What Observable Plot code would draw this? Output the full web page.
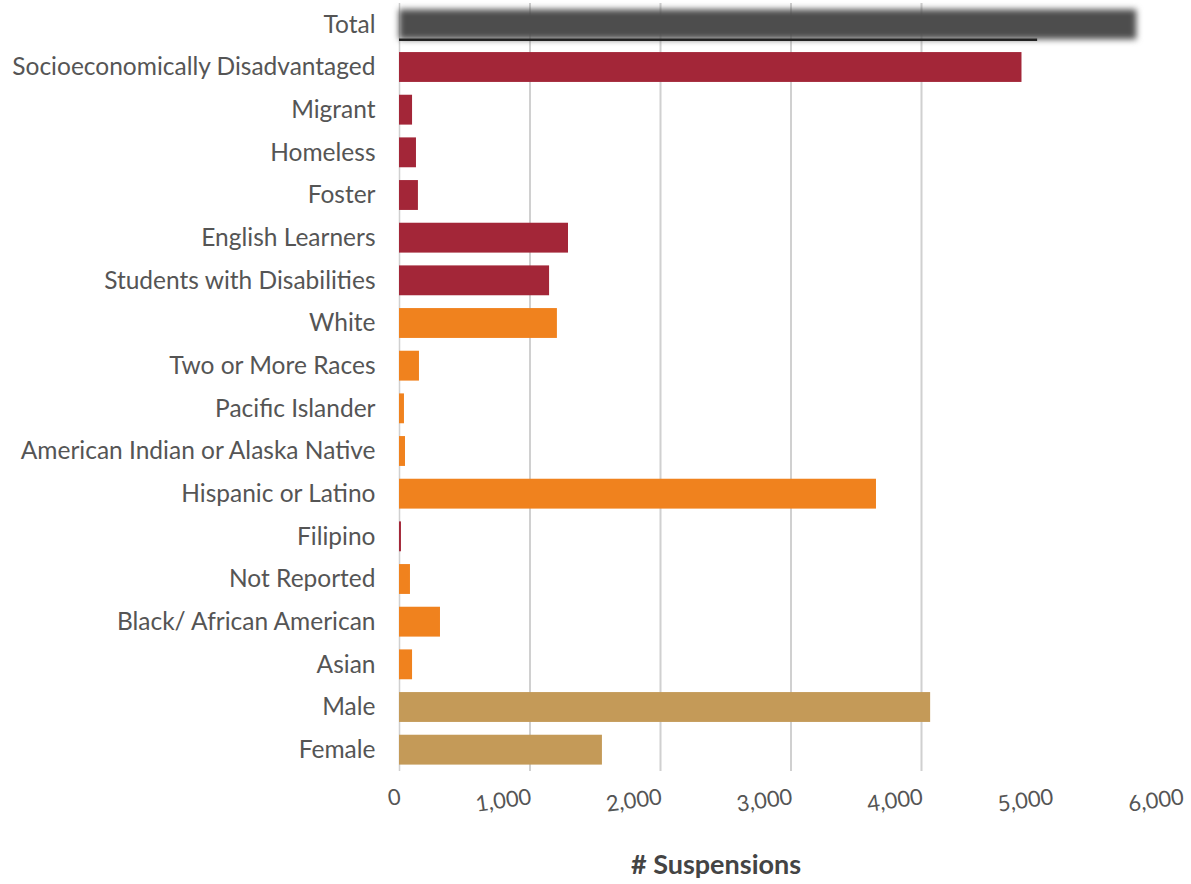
<!DOCTYPE html>
<html><head><meta charset="utf-8">
<script src="https://cdn.jsdelivr.net/npm/d3@7"></script>
<script src="https://cdn.jsdelivr.net/npm/@observablehq/plot@0.6"></script>
<style>body{margin:0;background:#fff}</style>
</head><body><div id="chart"></div>
<script>
const categories = ["Total","Socioeconomically Disadvantaged","Migrant","Homeless","Foster","English Learners","Students with Disabilities","White","Two or More Races","Pacific Islander","American Indian or Alaska Native","Hispanic or Latino","Filipino","Not Reported","Black/ African American","Asian","Male","Female"];
const suspensions = [5650,4770,100,130,145,1295,1150,1210,153,38,46,3655,15,84,314,100,4070,1555];
const groups = ["total","program","program","program","program","program","program","race","race","race","race","race","program","race","race","race","gender","gender"];
const groupNames = ["total","program","race","gender"];
const groupColors = ["#4d4d4d","#a32638","#f0821e","#c49a58"];
const xTicks = [0,1000,2000,3000,4000,5000,6000];
const gridTicks = [1000,2000,3000,4000];
const frameEnd = 4890;
const xTitle = ["# Suspensions"];

const data = categories.map((c,i)=>({category:c, value:suspensions[i], group:groups[i]}));
const font = "Lato, 'Open Sans', sans-serif";

const chart = Plot.plot({
  width:1191, height:884,
  marginLeft:399, marginRight:9, marginTop:3, marginBottom:113,
  style:{fontFamily:font, background:"#fff"},
  x:{domain:[0,6000], axis:null},
  y:{domain:categories, paddingInner:0.3, paddingOuter:0.15, round:false, axis:null},
  color:{domain:groupNames, range:groupColors},
  marks:[
    Plot.ruleX(gridTicks,{stroke:"#d0d0d0", strokeWidth:2}),
    Plot.ruleX([0],{stroke:"#d0d0d0", strokeWidth:1.5}),
    Plot.barX(data.filter(d=>d.group==="total"),{x:"value", y:"category", fill:"group"}),
    Plot.barX(data.filter(d=>d.group!=="total"),{x:"value", y:"category", fill:"group"}),
    Plot.ruleY(["Total"],{x1:0, x2:frameEnd, dy:15, stroke:"#222", strokeWidth:2.5}),
    Plot.axisY({tickSize:0, tickPadding:24, fontSize:24.5, fill:"#555", label:null}),
    Plot.axisX({ticks:xTicks, tickSize:0, tickPadding:17, tickRotate:-8, textAnchor:"end", fontSize:22, fill:"#555", tickFormat:d3.format(","), label:null}),
    Plot.text(xTitle,{frameAnchor:"bottom", dx:-75, dy:102, fontSize:27, fontWeight:"bold", fill:"#444"})
  ]
});
document.getElementById("chart").appendChild(chart);
const bars = chart.querySelectorAll('g[aria-label="bar"]');
if (bars.length) bars[0].setAttribute("style","filter:blur(3px)");
</script>
</body></html>
